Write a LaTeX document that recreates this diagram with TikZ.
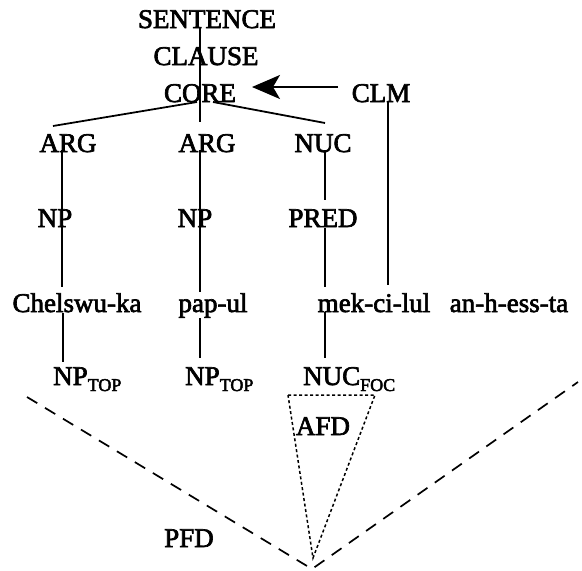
\documentclass[tikz,border=0pt]{standalone}
\usepackage{fontspec}
\setmainfont{Liberation Serif}
\newfontfamily\heavyserif{Liberation Serif}[FakeBold=2.5]
\usetikzlibrary{arrows.meta}

\newcommand{\lowtag}[1]{\raisebox{-6pt}{\fontsize{18}{18}\selectfont #1}}

\begin{document}
\begin{tikzpicture}[x=1pt, y=-1pt,
    lbl/.style={anchor=base, inner sep=0pt, font=\heavyserif\fontsize{27}{30}\selectfont},
    branch/.style={line width=1.8pt},
    pfdline/.style={line width=1.7pt, dash pattern=on 12pt off 9pt},
    afdline/.style={line width=1.5pt, dash pattern=on 3pt off 2.5pt}]

    \useasboundingbox (0,0) rectangle (582,571);

    % Labels of the tree (positions)
    \node[lbl] (sentence) at (207,28) {SENTENCE};
    \node[lbl] (clause) at (206,65) {CLAUSE};
    \node[lbl] (core) at (200,102) {CORE};
    \node[lbl] (clm) at (381,102) {CLM};
    \node[lbl] (arg1) at (68,152) {ARG};
    \node[lbl] (arg2) at (207,152) {ARG};
    \node[lbl] (nuc) at (323,152) {NUC};
    \node[lbl] (np1) at (55,227) {NP};
    \node[lbl] (np2) at (195,227) {NP};
    \node[lbl] (pred) at (323,227) {PRED};

    % The words
    \node[lbl] (chelswu) at (77,312) {Chelswu-ka};
    \node[lbl] (papul) at (213,312) {pap-ul};
    \node[lbl] (mek) at (374,312) {mek-ci-lul};
    \node[lbl] (anhess) at (509,312) {an-h-ess-ta};

    % Focus structure
    \node[lbl, anchor=base west] (top1) at (53,385) {NP\lowtag{TOP}};
    \node[lbl, anchor=base west] (top2) at (185,385) {NP\lowtag{TOP}};
    \node[lbl, anchor=base west] (foc) at (303,385) {NUC\lowtag{FOC}};
    \node[lbl] (afd) at (323,435) {AFD};
    \node[lbl] (pfd) at (189,547) {PFD};

    % Key points for the branches
    \coordinate (spine top) at (200,28);
    \coordinate (spine end) at (200,122);
    \coordinate (core left) at (197,102);
    \coordinate (core right) at (213,102);
    \coordinate (arg1 top) at (53,126);
    \coordinate (nuc top) at (325,123);
    \coordinate (arg1 foot) at (62,150);
    \coordinate (arg1 end) at (62,287);
    \coordinate (arg2 foot) at (200,150);
    \coordinate (arg2 end) at (200,292);
    \coordinate (nuc foot) at (325,150);
    \coordinate (nuc end) at (325,200);
    \coordinate (pred foot) at (325,228);
    \coordinate (pred end) at (325,287);
    \coordinate (clm foot) at (388,102);
    \coordinate (clm end) at (388,285);
    \coordinate (arrow start) at (338,87);
    \coordinate (arrow tip) at (252,87);
    \coordinate (w1 foot) at (63,313);
    \coordinate (w1 end) at (63,362);
    \coordinate (w2 foot) at (200,318);
    \coordinate (w2 end) at (200,358);
    \coordinate (w3 foot) at (325,312);
    \coordinate (w3 end) at (325,358);

    % Domains
    \coordinate (pfd left) at (27,397);
    \coordinate (pfd apex) at (312,569);
    \coordinate (pfd right) at (578,382);
    \coordinate (afd left) at (288,395);
    \coordinate (afd right) at (375,395);
    \coordinate (afd apex) at (313,558);

    % Draw the branches
    \draw[branch] (spine top) -- (spine end);
    \draw[branch] (core left) -- (arg1 top);
    \draw[branch] (core right) -- (nuc top);
    \draw[branch] (arg1 foot) -- (arg1 end);
    \draw[branch] (arg2 foot) -- (arg2 end);
    \draw[branch] (nuc foot) -- (nuc end);
    \draw[branch] (pred foot) -- (pred end);
    \draw[branch] (clm foot) -- (clm end);
    \draw[branch] (w1 foot) -- (w1 end);
    \draw[branch] (w2 foot) -- (w2 end);
    \draw[branch] (w3 foot) -- (w3 end);

    % CLM arrow
    \draw[branch, -{Stealth[length=28pt, width=24pt, inset=7pt]}] (arrow start) -- (arrow tip);

    % Draw the focus domains
    \draw[pfdline] (pfd left) -- (pfd apex) -- (pfd right);
    \draw[afdline] (afd left) -- (afd right) -- (afd apex) -- cycle;

\end{tikzpicture}
\end{document}
